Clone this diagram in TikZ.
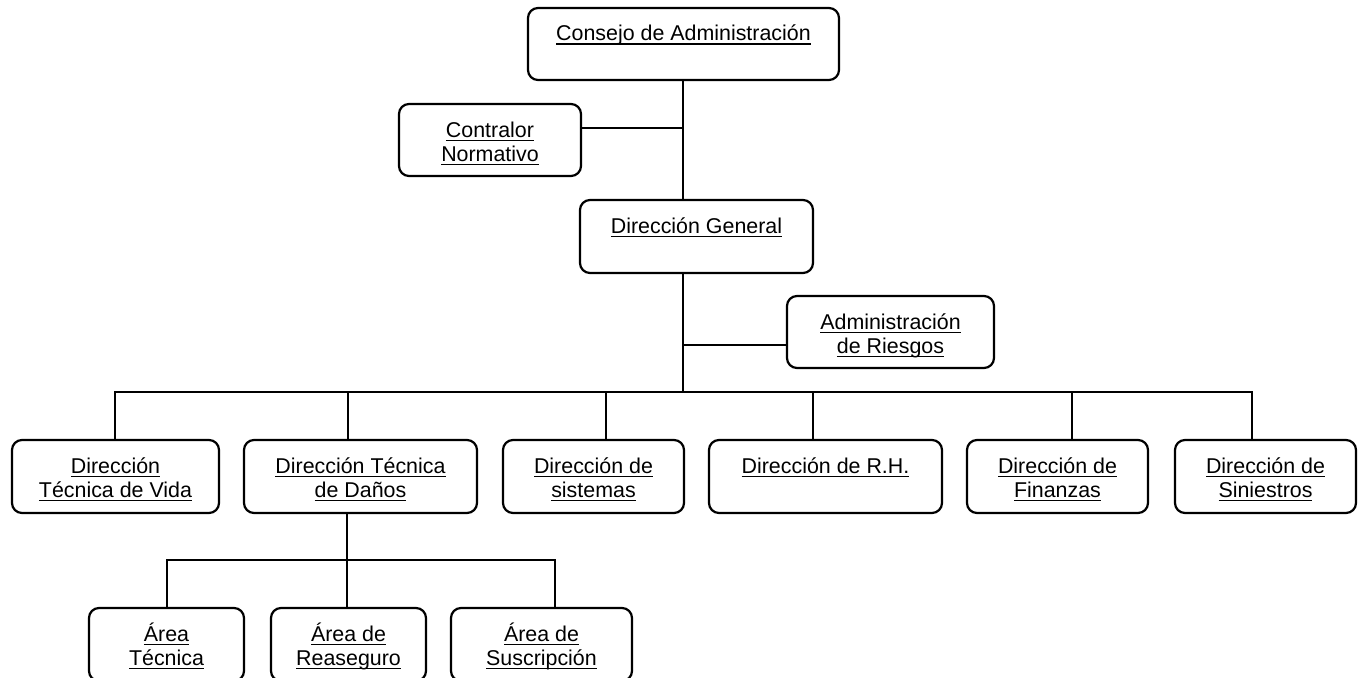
\documentclass[tikz,border=0pt]{standalone}
\usepackage{fontspec}
\setmainfont{Liberation Sans}
\usetikzlibrary{calc}

% underline drawn just below the baseline, across descenders
\newsavebox\ulbox
\newcommand\ul[1]{\sbox\ulbox{#1}\rlap{\rule[-4pt]{\wd\ulbox}{1.5pt}}\usebox\ulbox}

% \orgbox{name}{left}{top}{right}{bottom}{first line}
\newcommand\orgbox[6]{%
  \node[orgunit, minimum width={#4-#2}, minimum height={#5-#3}] (#1)
    at ({(#2+#4)/2},{(#3+#5)/2}) {};
  \node[orglabel] (#1-a) at ($(#1.north)+(0,33)$) {\ul{#6}};
}
% \orgline{name}{second line}
\newcommand\orgline[2]{%
  \node[orglabel] (#1-b) at ($(#1-a.base)+(0,24)$) {\ul{#2}};
}

\tikzset{
  orgunit/.style={draw=black, line width=2.2pt, rounded corners=10pt,
    inner sep=0pt, outer sep=0pt, fill=white},
  orglabel/.style={anchor=base, inner sep=0pt, outer sep=0pt,
    font=\fontsize{21.4}{24}\selectfont, text=black},
  link/.style={draw=black, line width=2pt},
}

\begin{document}
\begin{tikzpicture}[x=1pt,y=-1pt]
  \useasboundingbox (0,0) rectangle (1362,677);
  \fill[white] (0,0) rectangle (1362,677);
  \clip (0,0) rectangle (1362,677);

  % junction points of the connectors
  \coordinate (spine) at (683,0);
  \coordinate (cn) at (683,128);
  \coordinate (rk) at (683,345);
  \coordinate (busM) at (683,392);
  \coordinate (d-vida) at (115,392);
  \coordinate (d-danos) at (348,392);
  \coordinate (d-sistemas) at (606,392);
  \coordinate (d-rh) at (813,392);
  \coordinate (d-finanzas) at (1072,392);
  \coordinate (d-siniestros) at (1252,392);
  \coordinate (sub) at (347,560);
  \coordinate (s-tecnica) at (167,560);
  \coordinate (s-reaseguro) at (347,560);
  \coordinate (s-suscripcion) at (555,560);

  % boxes
  \orgbox{consejo}{528}{8}{839}{80}{Consejo de Administración}
  \orgbox{contralor}{399}{104}{581}{176}{Contralor}
  \orgline{contralor}{Normativo}
  \orgbox{general}{580}{200}{813}{273}{Dirección General}
  \orgbox{riesgos}{787}{296}{994}{368}{Administración}
  \orgline{riesgos}{de Riesgos}

  \orgbox{vida}{12}{440}{219}{513}{Dirección}
  \orgline{vida}{Técnica de Vida}
  \orgbox{danos}{244}{440}{477}{513}{Dirección Técnica}
  \orgline{danos}{de Daños}
  \orgbox{sistemas}{503}{440}{684}{513}{Dirección de}
  \orgline{sistemas}{sistemas}
  \orgbox{rh}{709}{440}{942}{513}{Dirección de R.H.}
  \orgbox{finanzas}{967}{440}{1148}{513}{Dirección de}
  \orgline{finanzas}{Finanzas}
  \orgbox{siniestros}{1175}{440}{1356}{513}{Dirección de}
  \orgline{siniestros}{Siniestros}

  \orgbox{tecnica}{89}{608}{244}{681}{Área}
  \orgline{tecnica}{Técnica}
  \orgbox{reaseguro}{271}{608}{426}{681}{Área de}
  \orgline{reaseguro}{Reaseguro}
  \orgbox{suscripcion}{451}{608}{632}{681}{Área de}
  \orgline{suscripcion}{Suscripción}

  % top spine
  \draw[link] (spine |- consejo.south) -- (spine |- general.north);
  \draw[link] (contralor.east |- cn) -- (cn);
  \draw[link] (spine |- general.south) -- (busM);
  \draw[link] (rk) -- (rk -| riesgos.west);

  % main bus with its drops
  \draw[link] (d-vida |- vida.north) -- (d-vida) -- (d-siniestros)
    -- (d-siniestros |- siniestros.north);
  \foreach \n in {danos,sistemas,rh,finanzas}
    \draw[link] (d-\n) -- (d-\n |- \n.north);

  % sub bus under Dirección Técnica de Daños
  \draw[link] (sub |- danos.south) -- (sub);
  \draw[link] (s-tecnica |- tecnica.north) -- (s-tecnica) -- (s-suscripcion)
    -- (s-suscripcion |- suscripcion.north);
  \draw[link] (s-reaseguro) -- (s-reaseguro |- reaseguro.north);
\end{tikzpicture}
\end{document}
